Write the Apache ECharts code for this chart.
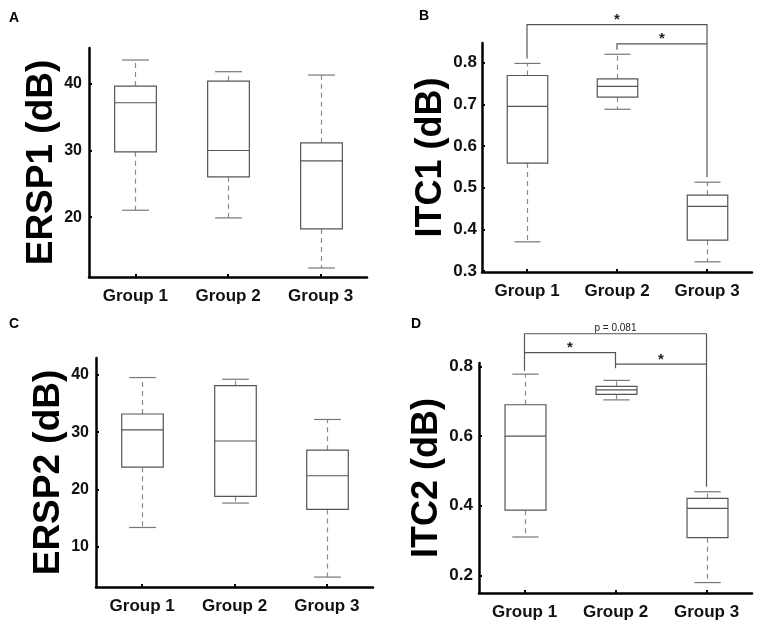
<!DOCTYPE html>
<html>
<head>
<meta charset="utf-8">
<script src="https://cdn.jsdelivr.net/npm/echarts@6/dist/echarts.min.js"></script>
<style>
html,body{margin:0;padding:0;background:#fff;}
#c{width:765px;height:626px;}
</style>
</head>
<body>
<div id="c"></div>
<script>
// ---- data ----
const groups = ['Group 1', 'Group 2', 'Group 3'];
// [min, Q1, median, Q3, max] per group
const ersp1 = [[21.05, 29.8, 37.15, 39.65, 43.55], [19.9, 26.05, 30.0, 40.4, 41.8], [12.4, 18.25, 28.45, 31.15, 41.3]];
const itc1 = [[0.370, 0.559, 0.695, 0.769, 0.798], [0.688, 0.717, 0.743, 0.761, 0.820], [0.322, 0.374, 0.455, 0.482, 0.513]];
const ersp2 = [[13.4, 23.9, 30.4, 33.15, 39.5], [17.65, 18.8, 28.45, 38.1, 39.2], [4.77, 16.55, 22.4, 26.85, 32.2]];
const itc2 = [[0.310, 0.387, 0.600, 0.690, 0.778], [0.704, 0.720, 0.733, 0.743, 0.760], [0.179, 0.308, 0.392, 0.421, 0.440]];
const ersp1Ticks = [20, 30, 40];
const itc1Ticks = [0.3, 0.4, 0.5, 0.6, 0.7, 0.8];
const ersp2Ticks = [10, 20, 30, 40];
const itc2Ticks = [0.2, 0.4, 0.6, 0.8];
const yNames = ['ERSP1 (dB)', 'ITC1 (dB)', 'ERSP2 (dB)', 'ITC2 (dB)'];
const panelLetters = ['A', 'B', 'C', 'D'];
// significance brackets: from group, to group, bar level, left leg end, right leg end, label
const bracketsB = [
  {from: 0, to: 2, y: 0.891, legFrom: 0.81, legTo: 0.525, label: '*'},
  {from: 1, to: 2, y: 0.845, legFrom: 0.831, legTo: 0.845, label: '*'}
];
const bracketsD = [
  {from: 0, to: 2, y: 0.894, legFrom: 0.788, legTo: 0.454, label: 'p = 0.081'},
  {from: 0, to: 1, y: 0.840, legFrom: 0.840, legTo: 0.795, label: '*'},
  {from: 1, to: 2, y: 0.807, legFrom: 0.807, legTo: 0.807, label: '*'}
];

const FONT = "'Liberation Sans', Arial, sans-serif";

function renderBox(params, api) {
  const x = api.value(0);
  const lo = api.coord([x, api.value(1)]);
  const q1 = api.coord([x, api.value(2)]);
  const med = api.coord([x, api.value(3)]);
  const q3 = api.coord([x, api.value(4)]);
  const hi = api.coord([x, api.value(5)]);
  const band = api.size([1, 0])[0];
  const bw = band * 0.45;
  const cw = band * 0.29;
  const cx = Math.round(q1[0]) + 0.5;
  const boxStroke = '#555';
  const whisk = '#8a8a8a';
  return {
    type: 'group',
    children: [
      {type: 'line', shape: {x1: cx, y1: q3[1], x2: cx, y2: hi[1]}, style: {stroke: whisk, lineWidth: 1.2, lineDash: [5, 4]}},
      {type: 'line', shape: {x1: cx, y1: q1[1], x2: cx, y2: lo[1]}, style: {stroke: whisk, lineWidth: 1.2, lineDash: [5, 4]}},
      {type: 'line', shape: {x1: cx - cw / 2, y1: hi[1], x2: cx + cw / 2, y2: hi[1]}, style: {stroke: '#777', lineWidth: 1.2}},
      {type: 'line', shape: {x1: cx - cw / 2, y1: lo[1], x2: cx + cw / 2, y2: lo[1]}, style: {stroke: '#777', lineWidth: 1.2}},
      {type: 'rect', shape: {x: cx - bw / 2, y: q3[1], width: bw, height: q1[1] - q3[1]}, style: {fill: '#fff', stroke: boxStroke, lineWidth: 1.2}},
      {type: 'line', shape: {x1: cx - bw / 2, y1: med[1], x2: cx + bw / 2, y2: med[1]}, style: {stroke: boxStroke, lineWidth: 1.2}}
    ]
  };
}

function makeBracketRender(list) {
  return function (params, api) {
    const b = list[params.dataIndex];
    const a0 = api.coord([b.from, b.legFrom]);
    const a1 = api.coord([b.from, b.y]);
    const a2 = api.coord([b.to, b.y]);
    const a3 = api.coord([b.to, b.legTo]);
    const isStar = b.label === '*';
    const mx = (a1[0] + a2[0]) / 2;
    return {
      type: 'group',
      children: [
        {type: 'polyline', shape: {points: [a0, a1, a2, a3]}, style: {stroke: '#555', lineWidth: 1.2, fill: null}},
        {type: 'text', x: mx, y: a1[1] + (isStar ? 3 : -1),
          style: {text: b.label, align: 'center', verticalAlign: 'bottom',
            font: (isStar ? 'bold 15px ' : '10px ') + FONT, fill: '#222'}}
      ]
    };
  };
}

const grids = [
  {left: 89, top: 48, width: 278, height: 229},
  {left: 482, top: 43, width: 270, height: 229},
  {left: 96, top: 358, width: 277, height: 229},
  {left: 479, top: 363, width: 273, height: 230}
];
const yRanges = [[11.05, 45.35], [0.2976, 0.847], [3.04, 42.9], [0.149, 0.81]];
const yTicks = [ersp1Ticks, itc1Ticks, ersp2Ticks, itc2Ticks];
const labelSizes = [16, 17, 16, 17];
const labelMargins = [7, 5, 7, 6];
const nameGaps = [25, 33, 28, 32];
const nameSizes = [37, 36, 37, 36];
const datasets = [ersp1, itc1, ersp2, itc2];

const xAxes = grids.map((g, i) => ({
  type: 'category', gridIndex: i, data: groups,
  axisLine: {lineStyle: {color: '#000', width: 2.5}},
  axisTick: {show: true, inside: true, length: 3, alignWithLabel: true, lineStyle: {color: '#000', width: 2}},
  axisLabel: {fontFamily: FONT, fontWeight: 'bold', fontSize: 17, color: '#111', margin: 11},
  splitLine: {show: false}
}));
const yAxes = grids.map((g, i) => ({
  type: 'value', gridIndex: i, min: yRanges[i][0], max: yRanges[i][1],
  name: yNames[i], nameLocation: 'middle', nameRotate: 90, nameGap: nameGaps[i],
  nameTextStyle: {fontFamily: FONT, fontWeight: 'bold', fontSize: nameSizes[i], color: '#000'},
  axisLine: {show: true, lineStyle: {color: '#000', width: 2.5}},
  axisTick: {show: true, inside: true, length: 3, customValues: yTicks[i], lineStyle: {color: '#000', width: 2}},
  axisLabel: {fontFamily: FONT, fontWeight: 'bold', fontSize: labelSizes[i], color: '#111', margin: labelMargins[i], customValues: yTicks[i]},
  splitLine: {show: false}
}));

const series = [];
datasets.forEach((d, i) => {
  series.push({
    type: 'custom', xAxisIndex: i, yAxisIndex: i,
    renderItem: renderBox,
    encode: {x: 0, y: [1, 2, 3, 4, 5]},
    data: d.map((v, k) => [k].concat(v)),
    silent: true, z: 3
  });
});

function addBrackets(list, axisIdx) {
  series.push({
    type: 'custom', xAxisIndex: axisIdx, yAxisIndex: axisIdx,
    renderItem: makeBracketRender(list),
    encode: {x: [0, 1], y: [2, 3, 4]},
    data: list.map(b => [b.from, b.to, b.y, b.legFrom, b.legTo]),
    clip: false, silent: true, z: 4
  });
}
addBrackets(bracketsB, 1);
addBrackets(bracketsD, 3);

const titlePos = [[9, 11], [419, 9], [9, 317], [411, 317]];
const titles = panelLetters.map((t, i) => ({
  text: t, left: titlePos[i][0], top: titlePos[i][1], padding: 0,
  textStyle: {fontFamily: FONT, fontWeight: 'bold', fontSize: 14, color: '#000'}
}));

const chart = echarts.init(document.getElementById('c'), null, {renderer: 'canvas'});
chart.setOption({
  animation: false,
  backgroundColor: '#fff',
  title: titles,
  grid: grids,
  xAxis: xAxes,
  yAxis: yAxes,
  series: series
});
</script>
</body>
</html>
